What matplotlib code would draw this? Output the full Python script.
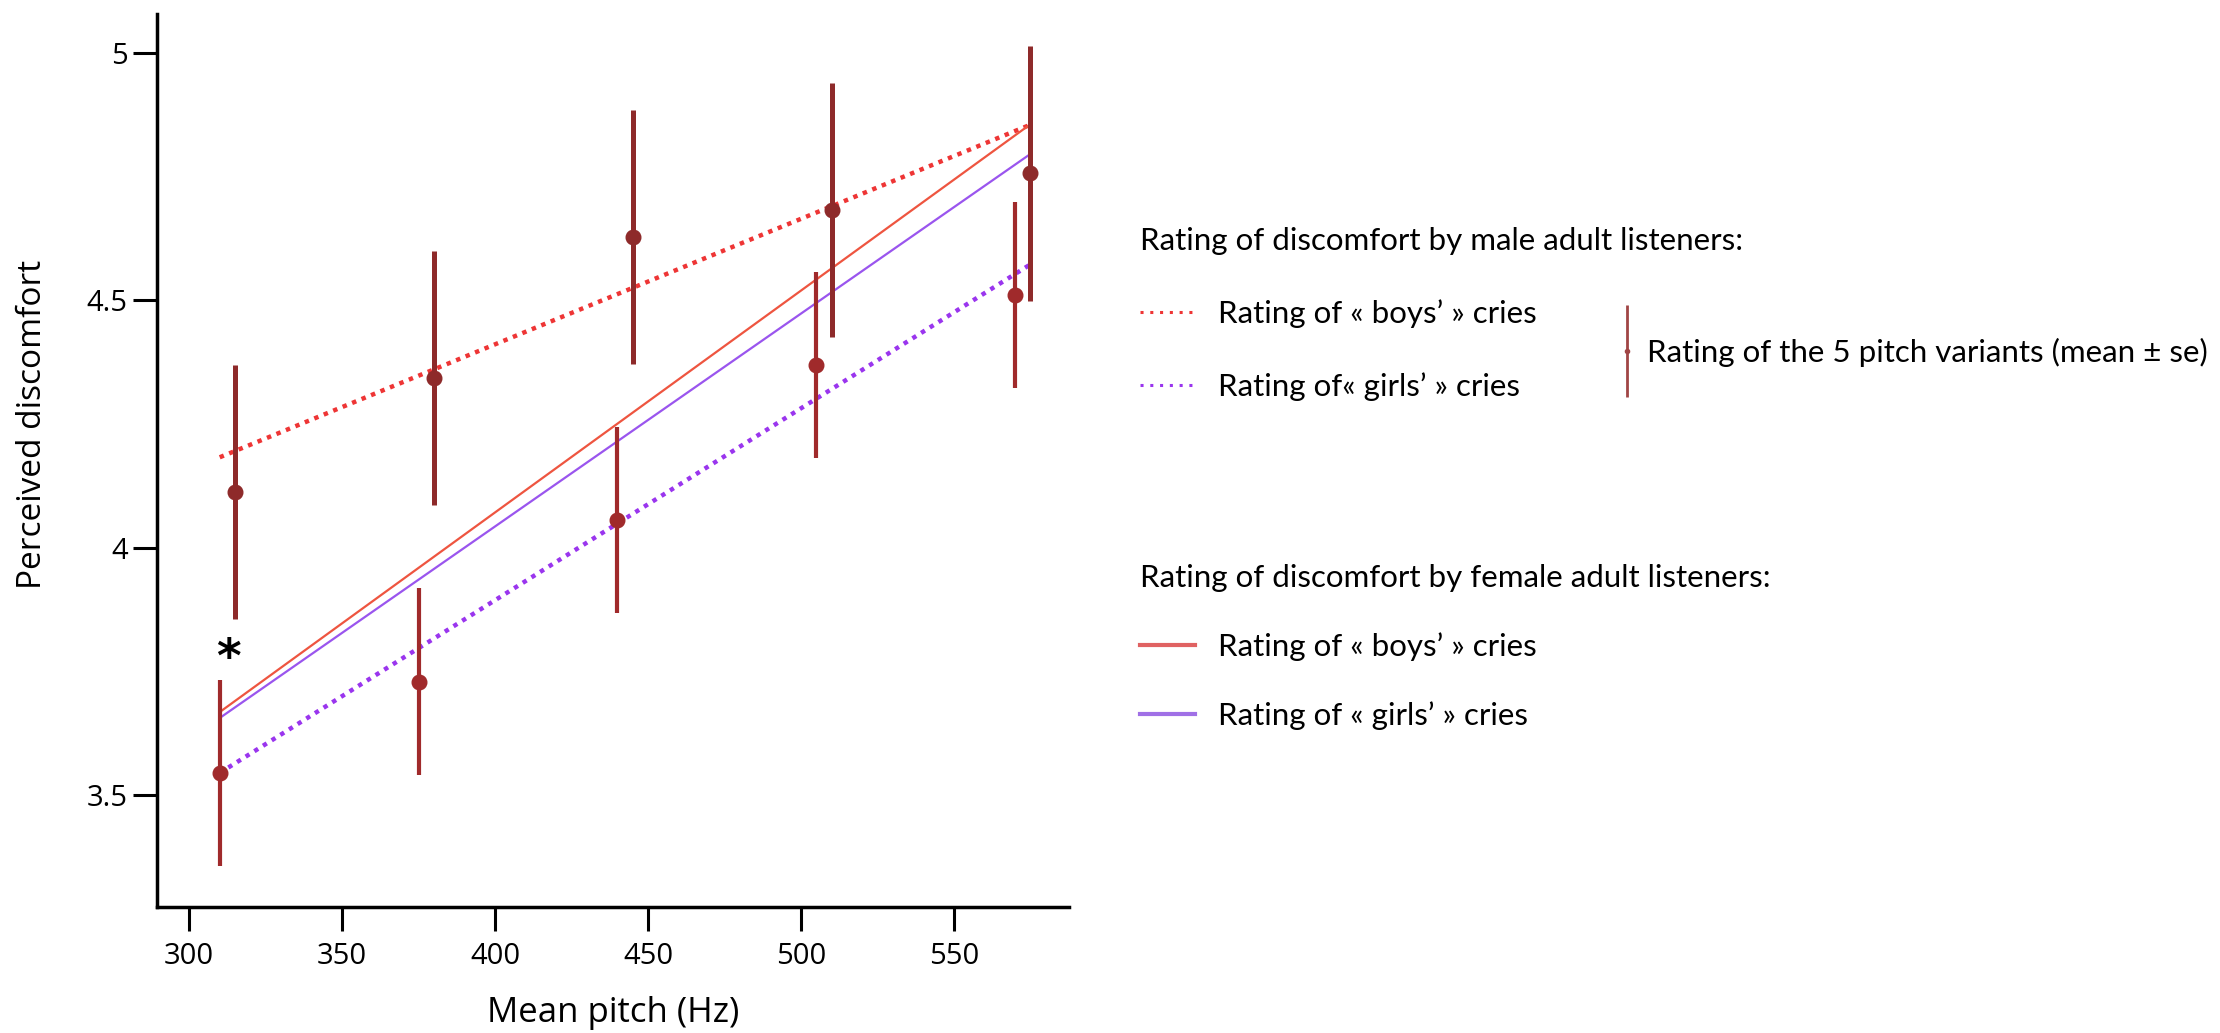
import matplotlib
matplotlib.use('Agg')
import matplotlib.pyplot as plt
from matplotlib.lines import Line2D

plt.rcParams['font.family'] = ['Open Sans', 'DejaVu Sans']

# ratings of the 5 pitch variants (mean and se), two listener groups
pitch_a = [315, 380, 445, 510, 575]
mean_a = [4.113, 4.343, 4.628, 4.683, 4.757]
se_a = [0.256, 0.257, 0.257, 0.256, 0.258]

pitch_b = [310, 375, 440, 505, 570]
mean_b = [3.545, 3.729, 4.056, 4.369, 4.511]
se_b = [0.188, 0.189, 0.188, 0.188, 0.188]

# regression lines, read at both ends
fit_x = [310, 574.5]
male_boys = [4.183, 4.854]
male_girls = [3.545, 4.571]
female_boys = [3.668, 4.854]
female_girls = [3.656, 4.794]

yticks = [3.5, 4, 4.5, 5]
ytick_labels = ['3.5', '4', '4.5', '5']
xticks = [300, 350, 400, 450, 500, 550]

star_x, star_y = 312.7, 3.775

c_err_a = '#8e2a2a'
c_err_b = '#a02a2b'
c_boys_dot = '#ee3535'
c_girls_dot = '#9a35ee'
c_boys_line = '#ee5540'
c_girls_line = '#9a55ee'

fig = plt.figure(figsize=(22.2, 10.33), dpi=100)
ax = fig.add_axes([157/2220, 1-907/1033, 912/2220, 893/1033])

dots = (0, (1, 1.3))
ax.plot(fit_x, male_boys, color=c_boys_dot, lw=3.2, ls=dots, zorder=2)
ax.plot(fit_x, male_girls, color=c_girls_dot, lw=3.2, ls=dots, zorder=2)
ax.plot(fit_x, female_boys, color=c_boys_line, lw=1.6, zorder=2)
ax.plot(fit_x, female_girls, color=c_girls_line, lw=1.6, zorder=2)

ax.errorbar(pitch_a, mean_a, yerr=se_a, fmt='o', color=c_err_a, ms=10.5,
            elinewidth=3.6, capsize=0, zorder=3)
ax.errorbar(pitch_b, mean_b, yerr=se_b, fmt='o', color=c_err_b, ms=10.5,
            elinewidth=3.0, capsize=0, zorder=3)

ax.text(star_x, star_y, '*', fontsize=34, fontweight='bold', ha='center', va='center',
        family='DejaVu Sans')

ax.set_xlim(289.5, 587.6)
ax.set_ylim(3.274, 5.079)
ax.set_xticks(xticks)
ax.set_yticks(yticks)
ax.set_yticklabels(ytick_labels)
ax.spines['top'].set_visible(False)
ax.spines['right'].set_visible(False)
for s in ['left', 'bottom']:
    ax.spines[s].set_linewidth(2.5)
ax.tick_params(axis='both', labelsize=21, width=2.2, length=17, color='black')
ax.tick_params(axis='x', pad=8)
ax.tick_params(axis='y', pad=4)

ax.set_xlabel('Mean pitch (Hz)', fontsize=25)
ax.set_ylabel('Perceived discomfort', fontsize=24)
ax.xaxis.set_label_coords(0.5, -0.100)
ax.yaxis.set_label_coords(-0.118, 0.54)

lprop = {'family': 'Lato', 'size': 22.5}
dot_key = (0, (1, 2.2))

male_keys = [Line2D([], [], color=c_boys_dot, lw=2.2, ls=dot_key),
             Line2D([], [], color=c_girls_dot, lw=2.2, ls=dot_key)]
fig.legend(male_keys, ['Rating of « boys’ » cries', 'Rating of« girls’ » cries'],
           title='Rating of discomfort by male adult listeners:',
           loc='center left', bbox_to_anchor=(1140/2220, 1-314/1033),
           frameon=False, prop=lprop, title_fontproperties=lprop, alignment='left',
           handlelength=1.76, handletextpad=0.75, labelspacing=1.42,
           borderpad=0, borderaxespad=0)

female_keys = [Line2D([], [], color='#e06262', lw=3),
               Line2D([], [], color='#a070e6', lw=3)]
fig.legend(female_keys, ['Rating of « boys’ » cries', 'Rating of « girls’ » cries'],
           title='Rating of discomfort by female adult listeners:',
           loc='center left', bbox_to_anchor=(1140/2220, 1-647/1033),
           frameon=False, prop=lprop, title_fontproperties=lprop, alignment='left',
           handlelength=1.76, handletextpad=0.75, labelspacing=1.3,
           borderpad=0, borderaxespad=0)

err_key = (Line2D([], [], color='#a04545', marker='|', ms=66, mew=2, ls='none'),
           Line2D([], [], color='#a04545', marker='o', ms=3, ls='none'))
fig.legend([err_key], ['Rating of the 5 pitch variants (mean ± se)'],
           loc='center left', bbox_to_anchor=(1617/2220, 1-352/1033),
           frameon=False, prop=lprop, handlelength=0.62, handletextpad=0.33,
           borderpad=0, borderaxespad=0)

fig.savefig('out.png', dpi=100)
